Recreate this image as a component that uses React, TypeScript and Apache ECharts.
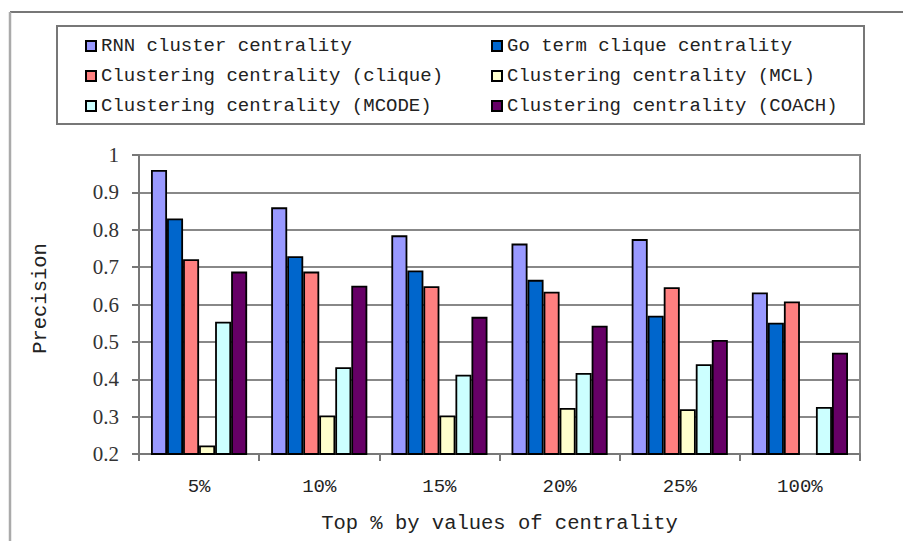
import React, { useEffect, useRef } from "react";
import * as echarts from "echarts";

const categories = ["5%", "10%", "15%", "20%", "25%", "100%"];
const seriesNames = [
  "RNN cluster centrality",
  "Go term clique centrality",
  "Clustering centrality (clique)",
  "Clustering centrality (MCL)",
  "Clustering centrality (MCODE)",
  "Clustering centrality (COACH)",
];
const seriesColors = ["#9999FF", "#0066CC", "#FF8080", "#FFFFCC", "#CCFFFF", "#660066"];
const rnnValues = [0.96, 0.86, 0.785, 0.763, 0.775, 0.632];
const goValues = [0.83, 0.729, 0.691, 0.666, 0.57, 0.551];
const cliqueValues = [0.721, 0.688, 0.649, 0.634, 0.646, 0.608];
const mclValues = [0.223, 0.303, 0.303, 0.323, 0.32, 0.201];
const mcodeValues = [0.554, 0.432, 0.412, 0.417, 0.44, 0.326];
const coachValues = [0.688, 0.65, 0.567, 0.543, 0.505, 0.471];
const allValues = [rnnValues, goValues, cliqueValues, mclValues, mcodeValues, coachValues];

const yAxisName = "Precision";
const xAxisName = "Top % by values of centrality";

export default function App() {
  const ref = useRef<HTMLDivElement>(null);
  useEffect(() => {
    if (!ref.current) return;
    const chart = echarts.init(ref.current, undefined, { renderer: "svg" });
    const mono = "Liberation Mono";
    const serif = "Liberation Serif";
    const legendText = { fontFamily: mono, fontSize: 19, color: "#222", lineHeight: 20 };
    chart.setOption({
      animation: false,
      backgroundColor: "#ffffff",
      grid: {
        left: 139,
        right: 43,
        top: 155,
        bottom: 87,
        show: true,
        borderColor: "#888",
        borderWidth: 2,
      },
      legend: [
        {
          data: [seriesNames[0], seriesNames[2], seriesNames[4]],
          orient: "vertical",
          left: 80,
          top: 31,
          itemWidth: 10,
          itemHeight: 10,
          itemGap: 10,
          icon: "rect",
          textStyle: legendText,
          selectedMode: false,
        },
        {
          data: [seriesNames[1], seriesNames[3], seriesNames[5]],
          orient: "vertical",
          left: 486,
          top: 31,
          itemWidth: 10,
          itemHeight: 10,
          itemGap: 10,
          icon: "rect",
          textStyle: legendText,
          selectedMode: false,
        },
      ],
      xAxis: {
        type: "category",
        data: categories,
        axisLine: { lineStyle: { color: "#777", width: 2 } },
        axisTick: { show: true, length: 7, inside: false, lineStyle: { color: "#777", width: 2 } },
        axisLabel: { fontFamily: mono, fontSize: 19, color: "#222", margin: 23 },
        name: xAxisName,
        nameLocation: "middle",
        nameGap: 59,
        nameTextStyle: { fontFamily: mono, fontSize: 20.5, color: "#222" },
      },
      yAxis: {
        type: "value",
        min: 0.2,
        max: 1,
        interval: 0.1,
        axisLine: { show: true, lineStyle: { color: "#777", width: 2 } },
        axisTick: { show: true, length: 7, lineStyle: { color: "#777", width: 2 } },
        splitLine: { show: true, lineStyle: { color: "#888", width: 2 } },
        axisLabel: {
          fontFamily: serif,
          fontSize: 21,
          color: "#333",
          margin: 20,
          formatter: (v: number) => (Math.abs(v - 1) < 1e-9 ? "1" : v.toFixed(1)),
        },
        name: yAxisName,
        nameLocation: "middle",
        nameGap: 88,
        nameRotate: 90,
        nameTextStyle: { fontFamily: mono, fontSize: 20.5, color: "#222", padding: [0, 0, 0, 12] },
      },
      graphic: [
        {
          type: "line",
          shape: { x1: 10, y1: 12, x2: 903, y2: 12 },
          style: { stroke: "#777", lineWidth: 2 },
          silent: true,
        },
        {
          type: "line",
          shape: { x1: 10, y1: 12, x2: 10, y2: 541 },
          style: { stroke: "#aaa", lineWidth: 2.5 },
          silent: true,
        },
        {
          type: "rect",
          shape: { x: 57, y: 26, width: 807, height: 98 },
          style: { fill: "none", stroke: "#777", lineWidth: 2 },
          silent: true,
          z: -1,
        },
      ],
      series: seriesNames.map((name, i) => ({
        name,
        type: "bar",
        data: allValues[i],
        barGap: "0%",
        barCategoryGap: "20%",
        itemStyle: { color: seriesColors[i], borderColor: "#000", borderWidth: 1.8 },
      })),
    });
    return () => chart.dispose();
  }, []);
  return (
    <div
      ref={ref}
      style={{ position: "fixed", left: 0, top: 0, width: 903, height: 541, background: "#fff" }}
    />
  );
}
